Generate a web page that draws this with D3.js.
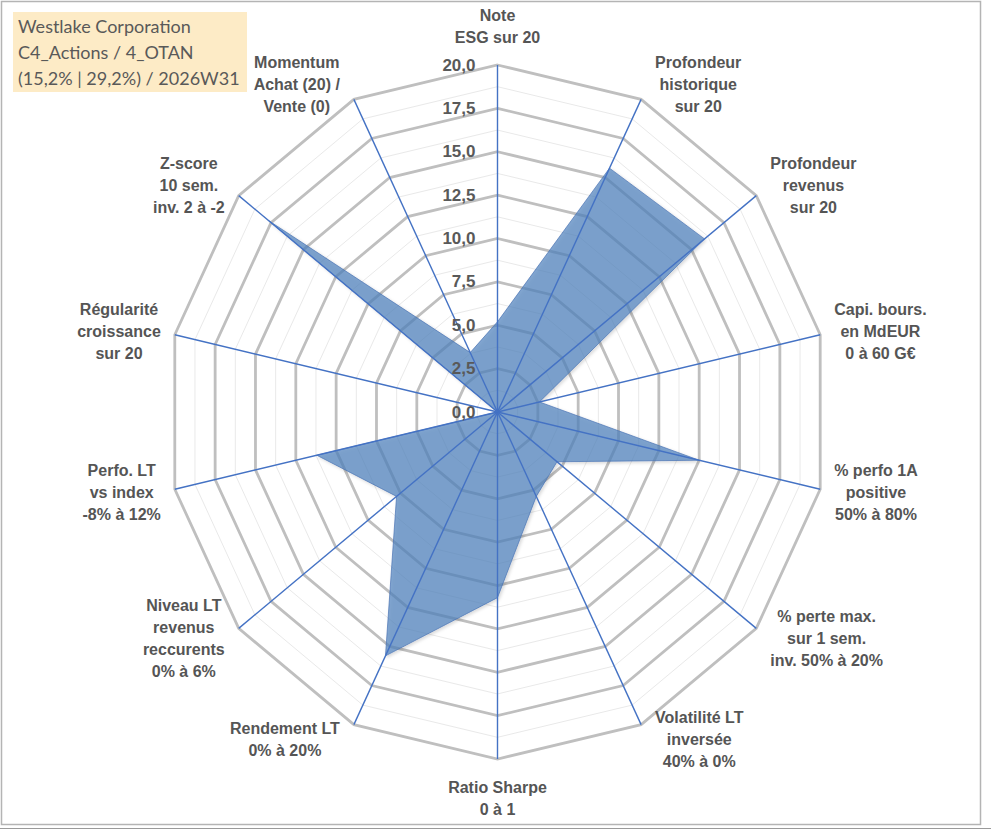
<!DOCTYPE html>
<html>
<head>
<meta charset="utf-8">
<script src="https://cdn.jsdelivr.net/npm/d3@7.9.0/dist/d3.min.js"></script>
<style>
  html, body { margin: 0; padding: 0; background: #fff; }
  svg { display: block; }
</style>
</head>
<body>
<svg id="chart" width="991" height="830"></svg>
<script>
// axis labels, clockwise from the top
const axisLabels = [
  ["Note", "ESG sur 20"],
  ["Profondeur", "historique", "sur 20"],
  ["Profondeur", "revenus", "sur 20"],
  ["Capi. bours.", "en MdEUR", "0 à 60 G€"],
  ["% perfo 1A", "positive", "50% à 80%"],
  ["% perte max.", "sur 1 sem.", "inv. 50% à 20%"],
  ["Volatilité LT", "inversée", "40% à 0%"],
  ["Ratio Sharpe", "0 à 1"],
  ["Rendement LT", "0% à 20%"],
  ["Niveau LT", "revenus", "reccurents", "0% à 6%"],
  ["Perfo. LT", "vs index", "-8% à 12%"],
  ["Régularité", "croissance", "sur 20"],
  ["Z-score", "10 sem.", "inv. 2 à -2"],
  ["Momentum", "Achat (20) /", "Vente (0)"]
];

// scores on 20
const scores = [5.2, 15.6, 16.0, 2.6, 12.5, 4.6, 5.4, 10.7, 15.6, 7.8, 11.2, 0, 17.7, 3.8];

const ticks = [0, 2.5, 5, 7.5, 10, 12.5, 15, 17.5, 20];
const minorTicks = [1.25, 3.75, 6.25, 8.75, 11.25, 13.75, 16.25, 18.75];

const titleLines = ["Westlake Corporation", "C4_Actions / 4_OTAN", "(15,2% | 29,2%) / 2026W31"];

const svg = d3.select("#chart");
const cx = 497.5, cy = 412, rx = 331, ry = 347;
const n = axisLabels.length;

const r = d3.scaleLinear().domain([0, 20]).range([0, 1]);
const angle = d3.scaleLinear().domain([0, n]).range([0, 2 * Math.PI]);

function pt(i, v) {
  const a = angle(i);
  return [cx + rx * r(v) * Math.sin(a), cy - ry * r(v) * Math.cos(a)];
}

// frame
svg.append("rect").attr("x", 1.5).attr("y", 1.5).attr("width", 979).attr("height", 823)
  .attr("fill", "#fff").attr("stroke", "#b4b4b4").attr("stroke-width", 1.5);
svg.append("line").attr("x1", 0).attr("x2", 991).attr("y1", 828.5).attr("y2", 828.5)
  .attr("stroke", "#9a9a9a").attr("stroke-width", 1);

const defs = svg.append("defs");
defs.append("filter").attr("id", "shadow").attr("x", "-10%").attr("y", "-10%")
  .attr("width", "120%").attr("height", "120%")
  .append("feDropShadow").attr("dx", 1.5).attr("dy", 1.5).attr("stdDeviation", 1.5)
  .attr("flood-color", "#000").attr("flood-opacity", 0.2);

const ring = (v) => d3.range(n).map((i) => pt(i, v));
const line = d3.line().curve(d3.curveLinearClosed);

// minor rings
svg.append("g").selectAll("path").data(minorTicks).join("path")
  .attr("d", (v) => line(ring(v)))
  .attr("fill", "none").attr("stroke", "#e9e9e9").attr("stroke-width", 1);

// major rings
svg.append("g").selectAll("path").data(ticks.filter((t) => t > 0)).join("path")
  .attr("d", (v) => line(ring(v)))
  .attr("fill", "none").attr("stroke", "#bfbfbf").attr("stroke-width", 2.8)
  .attr("stroke-linejoin", "miter");

// the series
svg.append("path")
  .attr("d", line(scores.map((v, i) => pt(i, v))))
  .attr("fill", "#4f81bd").attr("fill-opacity", 0.7)
  .attr("stroke", "#4a74b4").attr("stroke-width", 1).attr("stroke-opacity", 0.7)
  .attr("filter", "url(#shadow)");

// spokes
svg.append("g").selectAll("line").data(d3.range(n)).join("line")
  .attr("x1", cx).attr("y1", cy)
  .attr("x2", (i) => pt(i, 20)[0]).attr("y2", (i) => pt(i, 20)[1])
  .attr("stroke", "#4472c4").attr("stroke-width", 1.4);

// tick labels
svg.append("g").selectAll("text").data(ticks).join("text")
  .attr("x", cx - 22).attr("y", (t) => pt(0, t)[1])
  .attr("text-anchor", "end").attr("dominant-baseline", "central")
  .attr("font-family", "'Liberation Sans', Arial, sans-serif")
  .attr("font-weight", "bold").attr("font-size", 17).attr("fill", "#595959")
  .text((t) => d3.format(".1f")(t).replace(".", ","));

// axis labels
const lh = 22;
const labels = svg.append("g")
  .attr("font-family", "'Liberation Sans', Arial, sans-serif")
  .attr("font-weight", "bold").attr("font-size", 16).attr("fill", "#555");

axisLabels.forEach((lines, i) => {
  const a = angle(i);
  const s = Math.sin(a), c = Math.cos(a);
  const [vx, vy] = pt(i, 20);
  const t = labels.append("text").attr("text-anchor", "middle");
  lines.forEach((l) => t.append("tspan").attr("x", 0).text(l));
  const w = d3.max(t.selectAll("tspan").nodes(), (d) => d.getComputedTextLength());
  const h = lines.length * lh;
  let x, y;
  if (Math.abs(s) < 0.01) {
    x = vx;
    y = vy - c * (h / 2 + 17);
  } else {
    x = vx + Math.sign(s) * (w / 2 + 14);
    y = vy - c * 16;
  }
  t.selectAll("tspan")
    .attr("x", x)
    .attr("y", (d, k) => y - h / 2 + lh / 2 + k * lh)
    .attr("dominant-baseline", "central");
});

// title box
svg.append("rect").attr("x", 13).attr("y", 12).attr("width", 234).attr("height", 80)
  .attr("fill", "#fdebc6");
svg.append("g").selectAll("text").data(titleLines).join("text")
  .attr("x", 18).attr("y", (d, k) => 33 + k * 26)
  .attr("font-family", "Lato, 'Open Sans', sans-serif").attr("font-size", 18)
  .attr("fill", "#595959")
  .text((d) => d);
</script>
</body>
</html>
